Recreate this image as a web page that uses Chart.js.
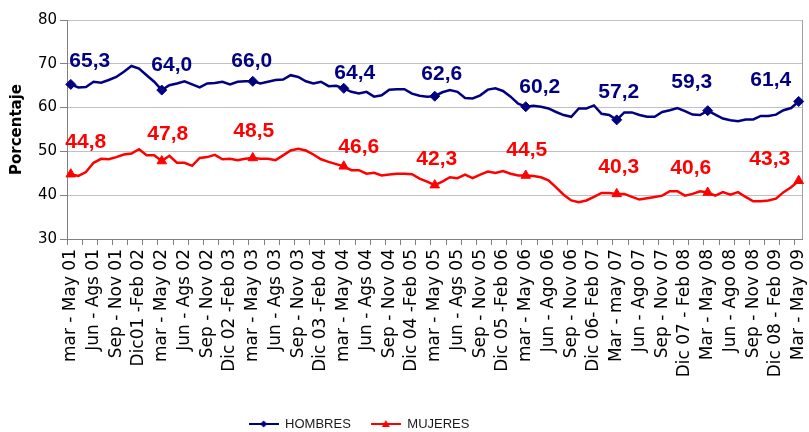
<!DOCTYPE html>
<html>
<head>
<meta charset="utf-8">
<title>Porcentaje - Hombres / Mujeres</title>
<script src="https://cdn.jsdelivr.net/npm/chart.js@4.4.1/dist/chart.umd.min.js"></script>
<style>
  html, body { margin: 0; padding: 0; background: #fff; }
</style>
</head>
<body>
<canvas id="chart" width="809" height="432"></canvas>
<script>
// tick labels, one every 3 monthly periods
const periodLabels = [
    'mar - May 01', 'Jun - Ags 01', 'Sep - Nov 01', 'Dic01 -Feb 02',
    'mar - May 02', 'Jun - Ags 02', 'Sep - Nov 02', 'Dic 02 -Feb 03',
    'mar - May 03', 'Jun - Ags 03', 'Sep - Nov 03', 'Dic 03 -Feb 04',
    'mar - May 04', 'Jun - Ags 04', 'Sep - Nov 04', 'Dic 04 -Feb 05',
    'mar - May 05', 'Jun - Ags 05', 'Sep - Nov 05', 'Dic 05 -Feb 06',
    'mar - May 06', 'Jun - Ago 06', 'Sep - Nov 06', 'Dic 06- Feb 07',
    'Mar - may 07', 'Jun - Ago 07', 'Sep - Nov 07', 'Dic 07 - Feb 08',
    'Mar - May 08', 'Jun - Ago 08', 'Sep - Nov 08', 'Dic 08 - Feb 09',
    'Mar - May 09'
];

const hombres = [
    65.3, 64.6, 64.7, 65.9, 65.7, 66.3, 67.0, 68.2, 69.5, 68.9, 67.4, 65.9,
    64.0, 65.1, 65.5, 66.0, 65.3, 64.6, 65.5, 65.6, 65.9, 65.3, 65.9, 66.0,
    66.0, 65.5, 65.9, 66.3, 66.4, 67.4, 67.0, 66.0, 65.5, 65.9, 64.9, 65.0,
    64.4, 63.6, 63.2, 63.6, 62.5, 62.8, 64.1, 64.2, 64.2, 63.2, 62.7, 62.5,
    62.6, 63.5, 64.0, 63.6, 62.2, 62.1, 62.8, 64.1, 64.4, 63.8, 62.5, 60.9,
    60.2, 60.4, 60.2, 59.8, 59.0, 58.3, 57.9, 59.8, 59.8, 60.5, 58.6, 58.3,
    57.2, 58.9, 58.9, 58.3, 57.9, 57.9, 59.0, 59.4, 59.9, 59.2, 58.4, 58.3,
    59.3, 58.4, 57.5, 57.1, 56.9, 57.3, 57.3, 58.1, 58.1, 58.4, 59.4, 59.9,
    61.4
];

const mujeres = [
    44.8, 44.4, 45.3, 47.4, 48.3, 48.2, 48.7, 49.3, 49.5, 50.5, 49.1, 49.1,
    47.8, 49.0, 47.4, 47.4, 46.7, 48.5, 48.7, 49.2, 48.2, 48.3, 48.0, 48.3,
    48.5, 48.3, 48.3, 48.0, 49.1, 50.2, 50.6, 50.2, 49.3, 48.2, 47.6, 47.1,
    46.6, 45.7, 45.7, 44.9, 45.1, 44.5, 44.7, 44.9, 44.9, 44.8, 43.8, 43.1,
    42.3, 43.1, 44.1, 43.9, 44.7, 43.9, 44.7, 45.4, 45.1, 45.5, 44.9, 44.5,
    44.5, 44.4, 44.1, 43.4, 41.8, 40.1, 38.8, 38.4, 38.8, 39.6, 40.5, 40.5,
    40.3, 40.3, 39.6, 39.0, 39.3, 39.6, 39.9, 40.9, 40.9, 39.9, 40.3, 40.9,
    40.6, 39.9, 40.7, 40.1, 40.7, 39.6, 38.6, 38.6, 38.8, 39.2, 40.7, 41.8,
    43.3
];

const yTicks = [30, 40, 50, 60, 70, 80];
const seriesNames = ['HOMBRES', 'MUJERES'];

// styling
const NAVY = '#000080';
const RED = '#ff0000';
const markerEvery = 12;
// where each value label sits relative to its marker (x, y of text centre)
const labelShift = [
    [[19, -25], [10, -27], [-1, -22], [11, -17], [7, -24], [14, -21], [2, -29], [-16, -30], [-28, -23]],
    [[15, -34], [6, -29], [1, -28], [15, -21], [2, -28], [1, -27], [2, -28], [-17, -26], [-29, -23]]
];

const categories = hombres.map((v, i) => (i % 3 === 0 ? periodLabels[i / 3] : ''));

function legendIcon(color, shape) {
    const c = document.createElement('canvas');
    c.width = 30;
    c.height = 12;
    const g = c.getContext('2d');
    g.strokeStyle = color;
    g.lineWidth = 2;
    g.beginPath();
    g.moveTo(0, 6);
    g.lineTo(30, 6);
    g.stroke();
    g.fillStyle = color;
    g.beginPath();
    if (shape === 'diamond') {
        g.moveTo(15, 2.5); g.lineTo(18.5, 6); g.lineTo(15, 9.5); g.lineTo(11.5, 6);
    } else {
        g.moveTo(15, 2); g.lineTo(19, 9); g.lineTo(11, 9);
    }
    g.closePath();
    g.fill();
    return c;
}
const legendIcons = [legendIcon(NAVY, 'diamond'), legendIcon(RED, 'triangle')];

// value labels above the yearly markers
const valueLabels = {
    id: 'valueLabels',
    afterDatasetsDraw(chart) {
        const ctx = chart.ctx;
        ctx.save();
        ctx.font = 'bold 21px "Liberation Sans", Arial, sans-serif';
        ctx.textAlign = 'center';
        ctx.textBaseline = 'alphabetic';
        chart.data.datasets.forEach((ds, d) => {
            const meta = chart.getDatasetMeta(d);
            ctx.fillStyle = ds.borderColor;
            let k = 0;
            meta.data.forEach((pt, i) => {
                if (i % markerEvery !== 0) return;
                const s = labelShift[d][k++] || [0, -25];
                const txt = ds.data[i].toFixed(1).replace('.', ',');
                ctx.fillText(txt, pt.x + s[0], pt.y + s[1] + 7.5);
            });
        });
        ctx.restore();
    }
};

// right edge of the plot frame
const plotFrame = {
    id: 'plotFrame',
    beforeDatasetsDraw(chart) {
        const { ctx, chartArea: a } = chart;
        ctx.save();
        ctx.strokeStyle = '#a0a0a0';
        ctx.lineWidth = 1;
        ctx.beginPath();
        ctx.moveTo(Math.round(a.right) - 0.5, a.top);
        ctx.lineTo(Math.round(a.right) - 0.5, a.bottom);
        ctx.stroke();
        ctx.restore();
    }
};

// legend sits a little left of centre and lower in the original
const legendNudge = {
    id: 'legendNudge',
    afterLayout(chart) {
        const l = chart.legend;
        if (!l) return;
        l.left -= 43;
        l.right -= 43;
        l.top += 8.5;
        l.bottom += 8.5;
    }
};

new Chart(document.getElementById('chart'), {
    type: 'line',
    data: {
        labels: categories,
        datasets: [{
            label: seriesNames[0],
            data: hombres,
            borderColor: NAVY,
            backgroundColor: NAVY,
            borderWidth: 2.5,
            pointStyle: 'rectRot',
            pointRadius: c => (c.dataIndex % markerEvery === 0 ? 5 : 0),
            pointBorderWidth: 1,
            pointHoverRadius: 0,
            tension: 0,
            clip: false
        }, {
            label: seriesNames[1],
            data: mujeres,
            borderColor: RED,
            backgroundColor: RED,
            borderWidth: 2.5,
            pointStyle: 'triangle',
            pointRadius: c => (c.dataIndex % markerEvery === 0 ? 5.5 : 0),
            pointBorderWidth: 1,
            pointHoverRadius: 0,
            tension: 0,
            clip: false
        }]
    },
    options: {
        responsive: false,
        animation: false,
        devicePixelRatio: 1,
        layout: {
            padding: { left: 0, right: 5, top: 20, bottom: 0 }
        },
        plugins: {
            tooltip: { enabled: false },
            legend: {
                position: 'bottom',
                labels: {
                    usePointStyle: true,
                    pointStyleWidth: 30,
                    padding: 20,
                    color: '#1a1a1a',
                    font: { family: '"Liberation Sans", Arial, sans-serif', size: 13 },
                    generateLabels: chart => Chart.defaults.plugins.legend.labels
                        .generateLabels(chart)
                        .map((item, i) => Object.assign(item, { pointStyle: legendIcons[i] }))
                }
            }
        },
        scales: {
            x: {
                offset: true,
                ticks: {
                    autoSkip: false,
                    minRotation: 90,
                    maxRotation: 90,
                    padding: 4,
                    color: '#000',
                    font: { family: '"DejaVu Sans", sans-serif', size: 17 }
                },
                grid: {
                    offset: true,
                    drawOnChartArea: false,
                    tickLength: 6,
                    tickColor: c => (c.index % 2 === 0 ? '#808080' : 'rgba(0,0,0,0)')
                },
                border: { color: '#808080' },
                afterFit: s => {
                    s.height = 150;
                    s.paddingLeft = 0;
                    s.paddingRight = 0;
                }
            },
            y: {
                min: yTicks[0],
                max: yTicks[yTicks.length - 1],
                ticks: {
                    stepSize: yTicks[1] - yTicks[0],
                    padding: 3,
                    color: '#000',
                    font: { family: '"DejaVu Sans", sans-serif', size: 15 }
                },
                grid: {
                    color: '#c0c0c0',
                    tickColor: '#808080',
                    tickLength: 7
                },
                border: { color: '#808080' },
                title: {
                    display: true,
                    text: 'Porcentaje',
                    color: '#000',
                    padding: { top: 8, bottom: 0 },
                    font: { family: '"DejaVu Sans", sans-serif', size: 15, weight: 'bold' }
                },
                afterFit: s => { s.width = 67; }
            }
        }
    },
    plugins: [valueLabels, plotFrame, legendNudge]
});
</script>
</body>
</html>
